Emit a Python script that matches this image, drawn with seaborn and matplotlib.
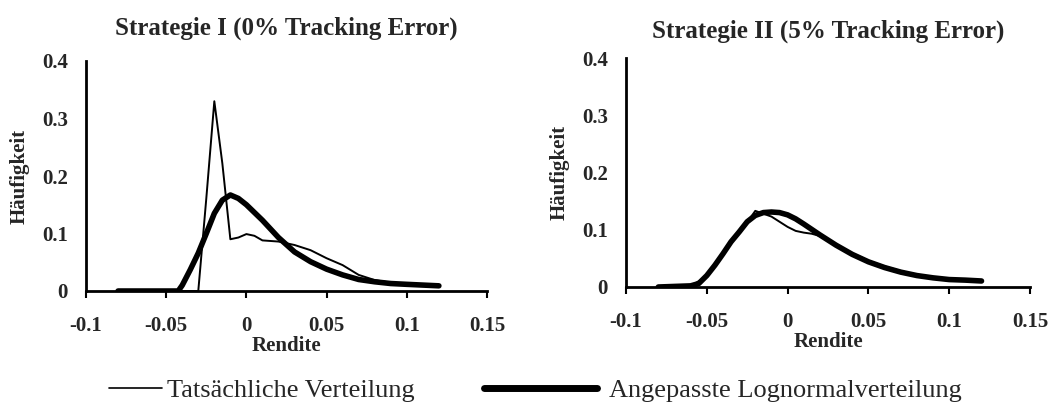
import matplotlib
matplotlib.use("Agg")
import matplotlib.pyplot as plt
import seaborn as sns
import pandas as pd
from matplotlib.lines import Line2D

sns.set_theme(style="white")
plt.rcParams['font.family'] = ['Liberation Serif', 'DejaVu Serif']
plt.rcParams['axes.unicode_minus'] = False

# ---- data ----
x_left_actual = [-0.08, -0.03, -0.025, -0.02, -0.015, -0.01, -0.005, 0.0, 0.005, 0.01, 0.02, 0.03,
                 0.04, 0.05, 0.06, 0.07, 0.08, 0.09, 0.10, 0.12]
y_left_actual = [0.0, 0.0, 0.161, 0.330, 0.222, 0.090, 0.093, 0.099, 0.096, 0.088, 0.086, 0.080,
                 0.071, 0.057, 0.045, 0.028, 0.019, 0.0145, 0.0116, 0.009]

x_left_logn = [-0.08, -0.0425, -0.04, -0.035, -0.03, -0.025, -0.02, -0.015, -0.01, -0.005, 0.0,
               0.01, 0.02, 0.03, 0.04, 0.05, 0.06, 0.07, 0.08, 0.09, 0.10, 0.12]
y_left_logn = [0.0, 0.0, 0.010, 0.037, 0.066, 0.100, 0.135, 0.158, 0.167, 0.161, 0.150,
               0.123, 0.093, 0.068, 0.051, 0.038, 0.028, 0.020, 0.016, 0.013, 0.0116, 0.009]

x_right_actual = [-0.08, -0.06, -0.05, -0.04, -0.03, -0.025, -0.02, -0.015, -0.01, -0.005, 0.0,
                  0.005, 0.01, 0.015, 0.02, 0.03, 0.04, 0.05, 0.06, 0.07, 0.08, 0.09, 0.10, 0.12]
y_right_actual = [0.0, 0.002, 0.018, 0.057, 0.095, 0.113, 0.133, 0.128, 0.123, 0.114, 0.105,
                  0.098, 0.095, 0.093, 0.089, 0.074, 0.059, 0.046, 0.036, 0.028, 0.021, 0.017, 0.014, 0.011]

x_right_logn = [-0.08, -0.06, -0.055, -0.05, -0.045, -0.04, -0.035, -0.03, -0.025, -0.02, -0.015,
                -0.01, -0.005, 0.0, 0.005, 0.01, 0.02, 0.03, 0.04, 0.05, 0.06, 0.07, 0.08, 0.09,
                0.10, 0.11, 0.12]
y_right_logn = [0.0, 0.002, 0.006, 0.020, 0.038, 0.058, 0.079, 0.096, 0.114, 0.125, 0.130,
                0.131, 0.130, 0.126, 0.119, 0.110, 0.091, 0.073, 0.057, 0.044, 0.034, 0.026, 0.020,
                0.016, 0.013, 0.012, 0.0105]

titles = ["Strategie I (0% Tracking Error)", "Strategie II (5% Tracking Error)"]
x_ticks = [-0.1, -0.05, 0, 0.05, 0.1, 0.15]
x_tick_labels = ["-0.1", "-0.05", "0", "0.05", "0.1", "0.15"]
y_ticks = [0, 0.1, 0.2, 0.3, 0.4]
y_tick_labels = ["0", "0.1", "0.2", "0.3", "0.4"]
legend_labels = ["Tatsächliche Verteilung", "Angepasste Lognormalverteilung"]
x_label = "Rendite"
y_label = "Häufigkeit"

fig = plt.figure(figsize=(10.52, 4.05), dpi=100)
ax1 = fig.add_axes([86/1052, 1-291/405, (487-86)/1052, (291-61)/405])
ax2 = fig.add_axes([626/1052, 1-287/405, (1030-626)/1052, (287-58)/405])

panels = [
    (ax1, x_left_actual, y_left_actual, x_left_logn, y_left_logn, titles[0], 19),
    (ax2, x_right_actual, y_right_actual, x_right_logn, y_right_logn, titles[1], 15),
]

for ax, xa, ya, xl, yl, title, tpad in panels:
    sns.lineplot(x=xl, y=yl, ax=ax, color="black", linewidth=4.0, sort=False)
    sns.lineplot(x=xa, y=ya, ax=ax, color="black", linewidth=1.4, sort=False)
    ax.set_xlim(-0.1, 0.15)
    ax.set_ylim(0, 0.4)
    ax.set_xticks(x_ticks)
    ax.set_xticklabels(x_tick_labels, fontsize=15, fontweight="bold")
    ax.set_yticks(y_ticks)
    ax.set_yticklabels(y_tick_labels, fontsize=15, fontweight="bold")
    ax.tick_params(axis="x", direction="out", length=5, width=1.5, color="black", pad=13, bottom=True)
    ax.tick_params(axis="y", length=0, pad=13)
    for s in ["top", "right"]:
        ax.spines[s].set_visible(False)
    for s in ["left", "bottom"]:
        ax.spines[s].set_color("black")
        ax.spines[s].set_linewidth(2.0)
    ax.set_xlabel(x_label, fontsize=15, fontweight="bold", labelpad=0)
    ax.set_ylabel(y_label, fontsize=15, fontweight="bold", labelpad=9)
    ax.set_title(title, fontsize=18, fontweight="bold", pad=tpad)
    ax.grid(False)
    ax.set_facecolor("white")

h1 = Line2D([], [], color="black", linewidth=1.2)
h2 = Line2D([], [], color="black", linewidth=5)
leg1 = fig.legend([h1], [legend_labels[0]], loc="center left", bbox_to_anchor=(109/1052, 1-390/405),
                  frameon=False, fontsize=19, handlelength=2.0, handletextpad=0.2, borderaxespad=0,
                  borderpad=0)
leg2 = fig.legend([h2], [legend_labels[1]], loc="center left", bbox_to_anchor=(484/1052, 1-390/405),
                  frameon=False, fontsize=19, handlelength=4.3, handletextpad=0.45, borderaxespad=0,
                  borderpad=0)

fig.savefig("out.png", dpi=100, facecolor="white")
